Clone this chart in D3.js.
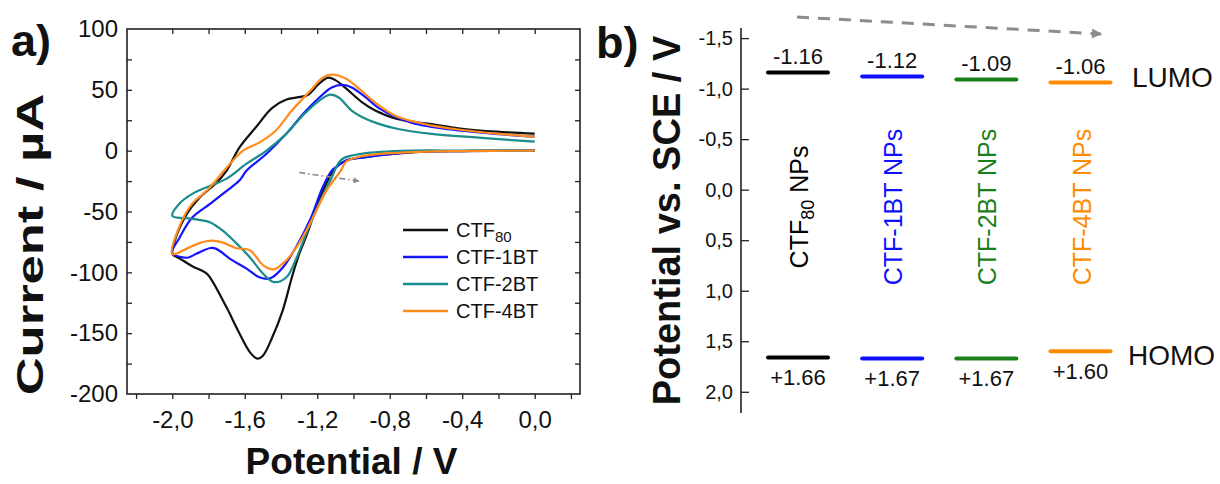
<!DOCTYPE html>
<html><head><meta charset="utf-8">
<script src="https://cdn.jsdelivr.net/npm/d3@7"></script>
<style>
html,body{margin:0;padding:0;background:#fff;}
svg{display:block;font-family:"Liberation Sans",Arial,Helvetica,sans-serif;}
</style></head>
<body>
<svg id="chart" width="1220" height="484"></svg>
<script>
// ---------- Panel a data: cyclic voltammograms [potential V, current µA] ----------
const ctf80 = [[0,0],[-0.4,-0.3],[-0.68,-1.4],[-0.95,-5.5],[-1.04,-8],[-1.1,-14],[-1.15,-27],[-1.2,-45],[-1.26,-70],[-1.3,-85],[-1.34,-104],[-1.39,-131],[-1.45,-154],[-1.5,-168.5],[-1.53,-171],[-1.57,-166],[-1.63,-150],[-1.7,-129],[-1.78,-107],[-1.81,-101],[-1.89,-95],[-1.96,-88.5],[-2.0,-85],
  [-1.99,-75.6],[-1.92,-52],[-1.85,-38.6],[-1.76,-27],[-1.7,-16.4],[-1.63,2.5],[-1.54,19],[-1.45,35],[-1.37,42],[-1.3,44],[-1.25,46],[-1.19,55],[-1.14,60],[-1.1,58],[-1.04,51],[-0.95,39.5],[-0.88,33],[-0.76,26],[-0.58,22],[-0.4,18],[-0.21,15.6],[0,14]];
const ctf1bt = [[0,0],[-0.4,-0.3],[-0.68,-1.2],[-0.95,-5.7],[-1.04,-8],[-1.1,-14],[-1.12,-16.4],[-1.17,-30],[-1.24,-57],[-1.32,-80],[-1.39,-96],[-1.46,-105],[-1.52,-104],[-1.59,-97],[-1.67,-90],[-1.76,-80.5],[-1.79,-80],[-1.87,-85],[-1.92,-88],[-2.0,-84],
  [-1.96,-71.5],[-1.89,-55],[-1.79,-43.5],[-1.7,-33],[-1.63,-24.6],[-1.59,-16.4],[-1.48,-2.5],[-1.37,14],[-1.28,30],[-1.19,43.5],[-1.12,52],[-1.06,54],[-1.01,52],[-0.93,43.5],[-0.86,35],[-0.68,23],[-0.4,16.4],[0,11.5]];
const ctf2bt = [[0,0],[-0.4,0],[-0.68,0],[-0.95,-2.5],[-1.06,-6.6],[-1.09,-12],[-1.12,-22],[-1.19,-43.5],[-1.26,-68],[-1.32,-90],[-1.37,-104],[-1.44,-108],[-1.5,-101],[-1.57,-88],[-1.65,-75.6],[-1.72,-66],[-1.79,-59],[-1.89,-56],[-2.0,-53.5],
  [-1.96,-43.5],[-1.89,-35.5],[-1.79,-28.8],[-1.7,-23],[-1.59,-10.7],[-1.48,0],[-1.37,14],[-1.28,29],[-1.19,41],[-1.13,46],[-1.08,43.5],[-1.01,33],[-0.93,26],[-0.86,22],[-0.76,18],[-0.58,14],[-0.31,10.7],[0,7.4]];
const ctf4bt = [[0,0],[-0.4,-0.3],[-0.68,-1.2],[-0.95,-4.5],[-1.04,-9],[-1.07,-16.4],[-1.15,-33],[-1.23,-57],[-1.3,-76],[-1.37,-90],[-1.44,-97.5],[-1.5,-94],[-1.57,-82],[-1.65,-80],[-1.72,-75.6],[-1.78,-74],[-1.85,-76],[-1.92,-80.5],[-2.0,-85],
  [-1.96,-62],[-1.89,-43.5],[-1.81,-33],[-1.7,-14],[-1.61,0],[-1.52,6.6],[-1.43,16.4],[-1.34,33],[-1.24,49],[-1.17,60],[-1.12,62.5],[-1.04,59],[-0.97,51],[-0.88,39.5],[-0.76,28],[-0.58,21],[-0.4,17],[-0.21,14],[0,11.5]];
const seriesNames = ["CTF80","CTF-1BT","CTF-2BT","CTF-4BT"];
const seriesColorsA = ["#111111","#1414ff","#1a8c8c","#ff8c1a"];
const xTicksA = [-2.0,-1.6,-1.2,-0.8,-0.4,0.0];
const yTicksA = [100,50,0,-50,-100,-150,-200];

// ---------- Panel b data: energy levels ----------
const materials = ["CTF80 NPs","CTF-1BT NPs","CTF-2BT NPs","CTF-4BT NPs"];
const lumo = [-1.16,-1.12,-1.09,-1.06];
const homo = [1.66,1.67,1.67,1.60];
const lumoLabels = ["-1.16","-1.12","-1.09","-1.06"];
const homoLabels = ["+1.66","+1.67","+1.67","+1.60"];
const colorsB = ["#000000","#1010ff","#1a801a","#ff8c00"];
const yTicksB = [-1.5,-1.0,-0.5,0.0,0.5,1.0,1.5,2.0];

const svg = d3.select("#chart");
const fmtComma = d => d3.format(".1f")(d).replace(".", ",").replace("−","-");

// defs
const defs = svg.append("defs");
defs.append("marker").attr("id","arrA").attr("viewBox","0 0 10 10").attr("refX",9).attr("refY",5)
  .attr("markerWidth",7).attr("markerHeight",6).attr("markerUnits","userSpaceOnUse").attr("orient","auto")
  .append("path").attr("d","M0,0L10,5L0,10Z").attr("fill","#8a8a8a");
defs.append("marker").attr("id","arrB").attr("viewBox","0 0 10 10").attr("refX",9).attr("refY",5)
  .attr("markerWidth",12).attr("markerHeight",10).attr("markerUnits","userSpaceOnUse").attr("orient","auto")
  .append("path").attr("d","M0,0L10,5L0,10Z").attr("fill","#8c8c8c");

// ================= Panel a =================
const L = 127, R = 580, T = 29, B = 394;
const xA = d3.scaleLinear().domain([-2.25, 0.25]).range([L, R]);
const yA = d3.scaleLinear().domain([-200, 100]).range([B, T]);
const gA = svg.append("g");

const line = d3.line().x(d => xA(d[0])).y(d => yA(d[1])).curve(d3.curveCatmullRom.alpha(0.5));
[ctf80, ctf1bt, ctf2bt, ctf4bt].forEach((s, i) => {
  gA.append("path").attr("d", line(s)).attr("fill","none")
    .attr("stroke", seriesColorsA[i]).attr("stroke-width", 2.2).attr("stroke-linejoin","round");
});

// axes
const axCol = "#222";
gA.append("g").attr("transform",`translate(0,${B})`)
  .call(d3.axisBottom(xA).tickValues(d3.range(-2.2, 0.21, 0.2)).tickSize(5).tickFormat(""))
  .call(g => g.select(".domain").remove());
gA.append("g").attr("transform",`translate(0,${B})`)
  .call(d3.axisBottom(xA).tickValues(xTicksA).tickSize(0).tickPadding(17).tickFormat(fmtComma))
  .call(g => g.select(".domain").remove())
  .call(g => g.selectAll("text").attr("font-size",24).attr("fill","#111").attr("font-family","Liberation Sans, Arial"));
gA.append("g").attr("transform",`translate(0,${T})`)
  .call(d3.axisBottom(xA).tickValues(d3.range(-2.0, 0.01, 0.2)).tickSize(5).tickFormat(""))
  .call(g => g.select(".domain").remove());
gA.append("g").attr("transform",`translate(${L},0)`)
  .call(d3.axisRight(yA).tickValues(d3.range(-175, 100, 25)).tickSize(5).tickFormat(""))
  .call(g => g.select(".domain").remove());
gA.append("g").attr("transform",`translate(${L},0)`)
  .call(d3.axisLeft(yA).tickValues(yTicksA).tickSize(0).tickPadding(9).tickFormat(d3.format("d")))
  .call(g => g.select(".domain").remove())
  .call(g => g.selectAll("text").attr("font-size",24).attr("fill","#111").attr("font-family","Liberation Sans, Arial").text(d => String(d)));
gA.append("g").attr("transform",`translate(${R},0)`)
  .call(d3.axisLeft(yA).tickValues(d3.range(-175, 100, 25)).tickSize(5).tickFormat(""))
  .call(g => g.select(".domain").remove());
gA.selectAll(".tick line").attr("stroke",axCol).attr("stroke-width",1.3);
gA.append("rect").attr("x",L).attr("y",T).attr("width",R-L).attr("height",B-T)
  .attr("fill","none").attr("stroke",axCol).attr("stroke-width",1.6);

// titles
gA.append("text").attr("x", (L+R)/2 - 2).attr("y", 474).attr("text-anchor","middle")
  .attr("font-size",37).attr("font-weight","bold").attr("fill","#111").text("Potential / V");
gA.append("text").attr("transform",`translate(43,244.5) rotate(-90) scale(1.42,1)`)
  .attr("text-anchor","middle").attr("font-size",37).attr("font-weight","bold").attr("fill","#111")
  .text("Current / µA");
gA.append("text").attr("x",11).attr("y",56).attr("font-size",45).attr("font-weight","bold").attr("fill","#111").text("a)");

// arrow
gA.append("line").attr("x1",xA(-1.30)).attr("y1",yA(-18)).attr("x2",xA(-0.97)).attr("y2",yA(-25))
  .attr("stroke","#8a8a8a").attr("stroke-width",1.6).attr("stroke-dasharray","6,3,1.5,3")
  .attr("marker-end","url(#arrA)");

// legend
const leg = gA.append("g");
seriesNames.forEach((n, i) => {
  const y = 230 + i*27;
  leg.append("line").attr("x1",403).attr("x2",448).attr("y1",y).attr("y2",y)
    .attr("stroke",seriesColorsA[i]).attr("stroke-width",2.4);
  const t = leg.append("text").attr("x",456).attr("y",y+7).attr("font-size",20).attr("fill","#111");
  if (i === 0) {
    t.append("tspan").text("CTF");
    t.append("tspan").attr("font-size",15).attr("dy",5).text("80");
  } else t.text(n);
});

// ================= Panel b =================
const axX = 741;
const yB = d3.scaleLinear().domain([-1.6, 2.21]).range([28, 413]);
const xB = d3.scalePoint().domain(materials).range([798, 1080.5]);
const gB = svg.append("g");
gB.append("g").attr("transform",`translate(${axX},0)`)
  .call(d3.axisRight(yB).tickValues(yTicksB).tickSize(8).tickFormat(""))
  .call(g => g.select(".domain").attr("stroke",axCol).attr("stroke-width",1.6).attr("d",`M0,${yB.range()[0]}V${yB.range()[1]}`))
  .call(g => g.selectAll(".tick line").attr("stroke",axCol).attr("stroke-width",1.3));
gB.append("g").attr("transform",`translate(${axX},0)`)
  .call(d3.axisLeft(yB).tickValues(yTicksB).tickSize(0).tickPadding(8).tickFormat(fmtComma))
  .call(g => g.select(".domain").remove())
  .call(g => g.selectAll("text").attr("font-size",20).attr("fill","#111").attr("font-family","Liberation Sans, Arial"));

gB.append("text").attr("transform",`translate(680,${(28+413)/2 + 0}) rotate(-90)`)
  .attr("text-anchor","middle").attr("font-size",38).attr("font-weight","bold").attr("fill","#111")
  .text("Potential vs. SCE / V");
gB.append("text").attr("x",596).attr("y",58).attr("font-size",45).attr("font-weight","bold").attr("fill","#111").text("b)");

// levels
const hw = 30;
materials.forEach((m, i) => {
  const cx = xB(m);
  gB.append("line").attr("x1",cx-hw).attr("x2",cx+hw).attr("y1",yB(lumo[i])).attr("y2",yB(lumo[i]))
    .attr("stroke",colorsB[i]).attr("stroke-width",4).attr("stroke-linecap","round");
  gB.append("line").attr("x1",cx-hw).attr("x2",cx+hw).attr("y1",yB(homo[i])).attr("y2",yB(homo[i]))
    .attr("stroke",colorsB[i]).attr("stroke-width",4).attr("stroke-linecap","round");
  gB.append("text").attr("x",cx).attr("y",yB(lumo[i]) - 8.5).attr("text-anchor","middle")
    .attr("font-size",22).attr("fill","#111").text(lumoLabels[i]);
  gB.append("text").attr("x",cx).attr("y",yB(homo[i]) + 28).attr("text-anchor","middle")
    .attr("font-size",22).attr("fill","#111").text(homoLabels[i]);
  const t = gB.append("text").attr("transform",`translate(${cx+10},207) rotate(-90)`)
    .attr("text-anchor","middle").attr("font-size",25).attr("fill",colorsB[i]);
  if (i === 0) {
    t.append("tspan").text("CTF");
    t.append("tspan").attr("font-size",18).attr("dy",6).text("80");
    t.append("tspan").attr("dy",-6).text(" NPs");
  } else t.text(m);
});
gB.append("text").attr("x",1132).attr("y",87).attr("font-size",28).attr("fill","#111").text("LUMO");
gB.append("text").attr("x",1128).attr("y",365).attr("font-size",28).attr("fill","#111").text("HOMO");

// dashed trend arrow
gB.append("line").attr("x1",797).attr("y1",17).attr("x2",1101).attr("y2",34)
  .attr("stroke","#8c8c8c").attr("stroke-width",3).attr("stroke-dasharray","12,9")
  .attr("marker-end","url(#arrB)");
</script>
</body></html>
